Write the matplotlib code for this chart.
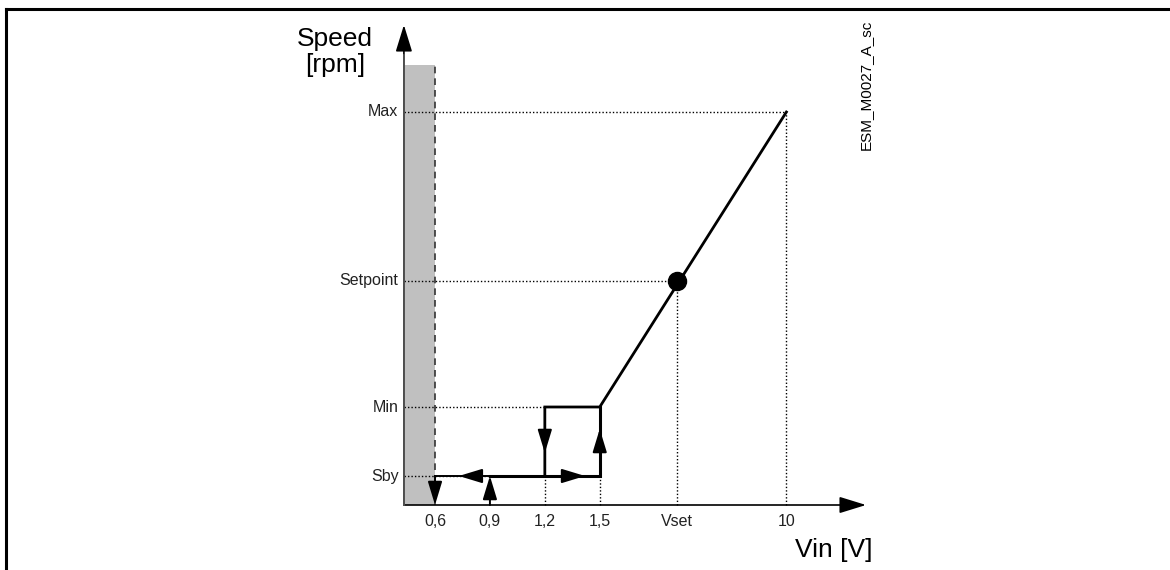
import matplotlib.pyplot as plt
from matplotlib.lines import Line2D

plt.rcParams['font.family'] = ['Liberation Sans', 'DejaVu Sans']

# schematic positions of the voltage ticks and speed levels
x_ticks = [0.6, 0.9, 1.2, 1.5, 1.92, 2.52]
x_tick_labels = ['0,6', '0,9', '1,2', '1,5', 'Vset', '10']
y_levels = [0.29, 0.98, 2.24, 3.93]
y_labels = ['Sby', 'Min', 'Setpoint', 'Max']

v_stop = 0.6       # below this: stop zone (grey)
v_on = 0.9
v_off = 1.2
v_min = 1.5
v_set = 1.92
v_max = 2.52
sby, spd_min, spd_set, spd_max = y_levels

x0, y0 = 0.43, 0.0
x_tip, y_tip = 2.955, 4.80
grey_top = 4.40

fig = plt.figure(figsize=(11.7, 5.7), dpi=100)
ax = fig.add_axes([0, 0, 1, 1])
ax.set_xlim(-1.777, 4.616)
ax.set_ylim(-0.65, 5.05)
ax.axis('off')

# frame of the picture
fig.add_artist(Line2D([0.0051, 0.0051], [0, 0.984], color='black', lw=2.2, transform=fig.transFigure))
fig.add_artist(Line2D([0.0051, 1.0], [0.984, 0.984], color='black', lw=2.2, transform=fig.transFigure))

# grey stop area and dashed limit
ax.fill_between([x0, v_stop], 0, grey_top, color='#c0c0c0', lw=0, zorder=1)
ax.plot([v_stop, v_stop], [0, grey_top], color='#333333', lw=1.2, ls=(0, (4, 3)), zorder=2)

# axes with arrows
axis_arrow = dict(arrowstyle='-|>,head_length=1.1,head_width=0.34', mutation_scale=15,
                  color='black', lw=1.2, shrinkA=0, shrinkB=0)
ax.annotate('', xy=(x0, y_tip), xytext=(x0, 0), zorder=3, arrowprops=axis_arrow)
ax.annotate('', xy=(x_tip, 0), xytext=(x0, 0), zorder=3, arrowprops=axis_arrow)
ax.plot([x0, x0], [0, 4.5], color='#555555', lw=1.3, zorder=3)

# dotted guide lines
dot = dict(color='black', lw=1.0, ls=(0, (1, 1.5)), zorder=2)
ax.plot([x0, v_max], [spd_max, spd_max], **dot)
ax.plot([v_max, v_max], [0, spd_max], **dot)
ax.plot([x0, v_set], [spd_set, spd_set], **dot)
ax.plot([v_set, v_set], [0, spd_set], **dot)
ax.plot([x0, v_off], [spd_min, spd_min], **dot)
ax.plot([x0, v_on], [sby, sby], **dot)
ax.plot([v_off, v_off], [0, sby], **dot)
ax.plot([v_min, v_min], [0, sby], **dot)

# control curve
ax.plot([v_stop, v_on], [sby, sby], color='black', lw=1.4, zorder=4)
ax.plot([v_on, v_min, v_min], [sby, sby, spd_min], color='black', lw=2.2, zorder=4,
        solid_joinstyle='miter')
ax.plot([v_off, v_off, v_min, v_max], [sby, spd_min, spd_min, spd_max], color='black', lw=2.0,
        zorder=4, solid_joinstyle='miter')
ax.plot([v_set], [spd_set], 'o', color='black', ms=13, zorder=5)

# direction arrows
small = dict(arrowstyle='-|>,head_length=1.25,head_width=0.38', mutation_scale=11.5,
             color='black', lw=1.4, shrinkA=0, shrinkB=0)
ax.annotate('', xy=(v_stop, 0.0), xytext=(v_stop, sby), arrowprops=small, zorder=6)
ax.annotate('', xy=(v_on, sby), xytext=(v_on, 0.0), arrowprops=small, zorder=6)
ax.annotate('', xy=(0.73, sby), xytext=(0.84, sby), arrowprops=small, zorder=6)
ax.annotate('', xy=(1.42, sby), xytext=(1.28, sby), arrowprops=small, zorder=6)
ax.annotate('', xy=(v_off, 0.52), xytext=(v_off, 0.72), arrowprops=small, zorder=6)
ax.annotate('', xy=(v_min, 0.76), xytext=(v_min, 0.55), arrowprops=small, zorder=6)

# tick labels
for x, lab in zip(x_ticks, x_tick_labels):
    ax.text(x, -0.16, lab, ha='center', va='center', fontsize=11.5, color='#222222')
for y, lab in zip(y_levels, y_labels):
    ax.text(0.40, y, lab, ha='right', va='center', fontsize=11.5, color='#222222')

ax.text(0.054, 4.53, 'Speed\n[rpm]', ha='center', va='center', fontsize=19, linespacing=1.1)
ax.text(2.78, -0.45, 'Vin [V]', ha='center', va='center', fontsize=19)
ax.text(2.955, 4.2, 'ESM_M0027_A_sc', ha='center', va='center', rotation=90, fontsize=11)

fig.savefig('out.png', dpi=100)
